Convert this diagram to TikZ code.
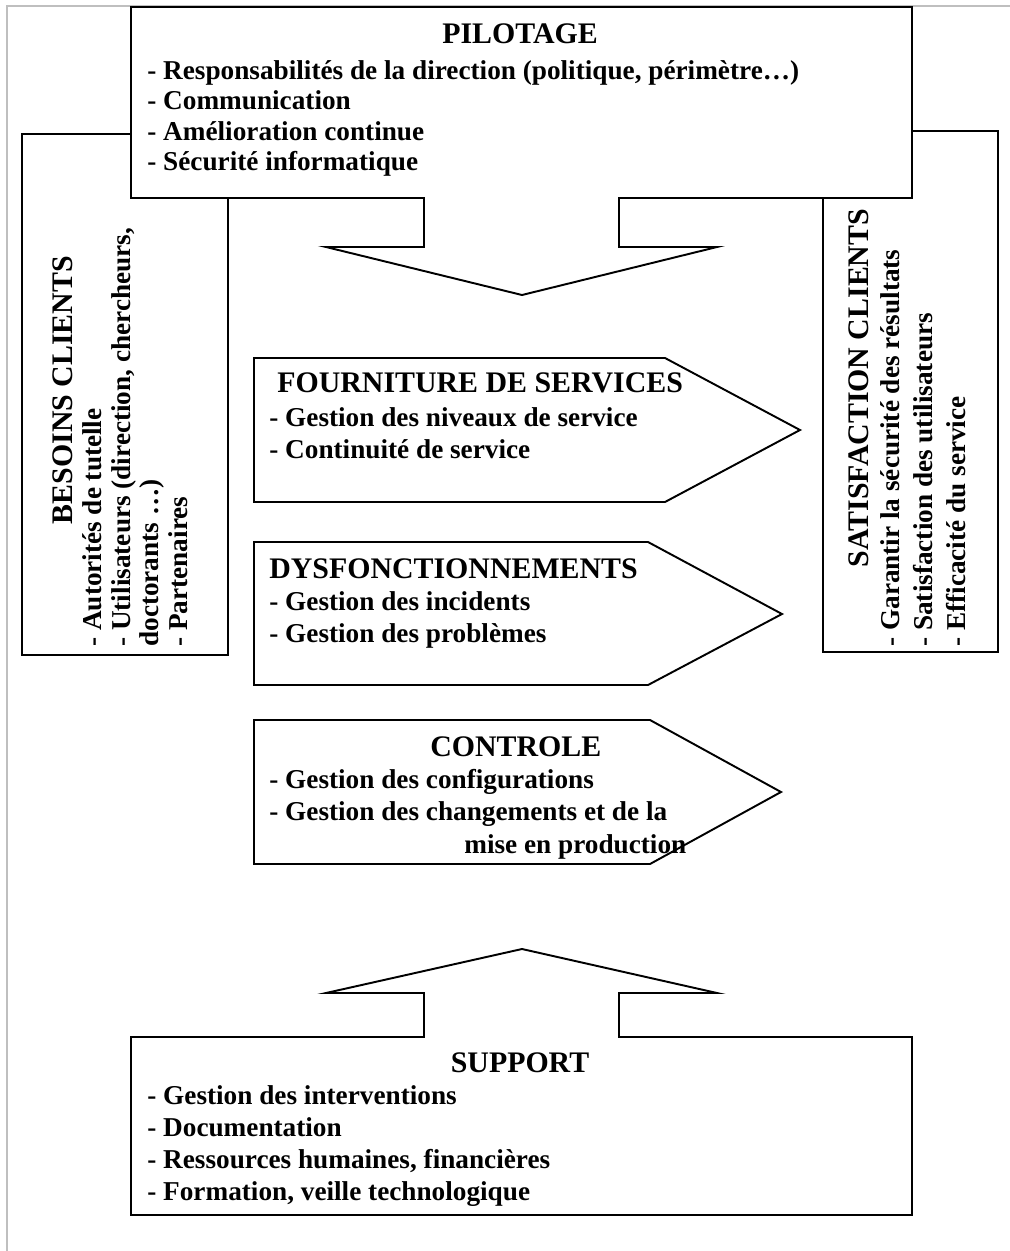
\documentclass[tikz,border=0pt]{standalone}
\usepackage{fontspec}
\setmainfont{Liberation Serif}
\begin{document}
\begin{tikzpicture}[
    x=0.02cm, y=-0.02cm,
    every node/.style={inner sep=0pt, anchor=base west, font=\fontsize{15.5}{18}\selectfont\bfseries},
    titre/.style={font=\fontsize{17}{20}\selectfont\bfseries},
    boite/.style={draw, fill=white, line width=1.1pt},
    cadre/.style={draw=black!25, line width=0.8pt}
]
\useasboundingbox (0,0) rectangle (1010,1251);
\draw[cadre] (7,1251) -- (7,6) -- (1010,6);

\draw[boite] (22,134) rectangle (228,655);
\node[titre, rotate=90, anchor=base] (bes) at (72,390) {BESOINS CLIENTS};
\foreach \txt [count=\i] in {- Autorités de tutelle, {- Utilisateurs (direction, chercheurs,}, doctorants …), - Partenaires}
    \node[rotate=90] (bes-\i) at (73+28.5*\i,647) {\txt};

\draw[boite] (823,131) rectangle (998,652);
\node[titre, rotate=90, anchor=base] (sat) at (868,388) {SATISFACTION CLIENTS};
\foreach \txt [count=\i] in {- Garantir la sécurité des résultats, - Satisfaction des utilisateurs, - Efficacité du service}
    \node[rotate=90] (sat-\i) at (866+33*\i,647) {\txt};

\draw[boite] (131,7) -- (912,7) -- (912,198) -- (619,198) -- (619,247) -- (717,247) -- (522,295)
    -- (326,247) -- (424,247) -- (424,198) -- (131,198) -- cycle;
\node[titre, anchor=base] (pil) at (520,43) {PILOTAGE};
\foreach \txt [count=\i] in {{- Responsabilités de la direction (politique, périmètre…)}, - Communication, - Amélioration continue, - Sécurité informatique}
    \node (pil-\i) at (147,48.5+30.5*\i) {\txt};

\draw[boite] (254,358) -- (665,358) -- (800,430) -- (665,502) -- (254,502) -- cycle;
\node[titre] (fou) at (277,392) {FOURNITURE DE SERVICES};
\foreach \txt [count=\i] in {- Gestion des niveaux de service, - Continuité de service}
    \node (fou-\i) at (269,394+32*\i) {\txt};

\draw[boite] (254,542) -- (648,542) -- (782,614) -- (648,685) -- (254,685) -- cycle;
\node[titre] (dys) at (269,578) {DYSFONCTIONNEMENTS};
\foreach \txt [count=\i] in {- Gestion des incidents, - Gestion des problèmes}
    \node (dys-\i) at (269,578+32*\i) {\txt};

\draw[boite] (254,720) -- (650,720) -- (781,792) -- (650,864) -- (254,864) -- cycle;
\node[titre] (ctl) at (430,756) {CONTROLE};
\node (ctl-1) at (269,788) {- Gestion des configurations};
\node (ctl-2) at (269,820) {- Gestion des changements et de la};
\node (ctl-3) at (464,853) {mise en production};

\draw[boite] (131,1215) -- (912,1215) -- (912,1037) -- (619,1037) -- (619,993) -- (717,993) -- (522,949)
    -- (326,993) -- (424,993) -- (424,1037) -- (131,1037) -- cycle;
\node[titre, anchor=base] (sup) at (520,1072) {SUPPORT};
\foreach \txt [count=\i] in {- Gestion des interventions, - Documentation, {- Ressources humaines, financières}, {- Formation, veille technologique}}
    \node (sup-\i) at (147,1072+32*\i) {\txt};
\end{tikzpicture}
\end{document}
